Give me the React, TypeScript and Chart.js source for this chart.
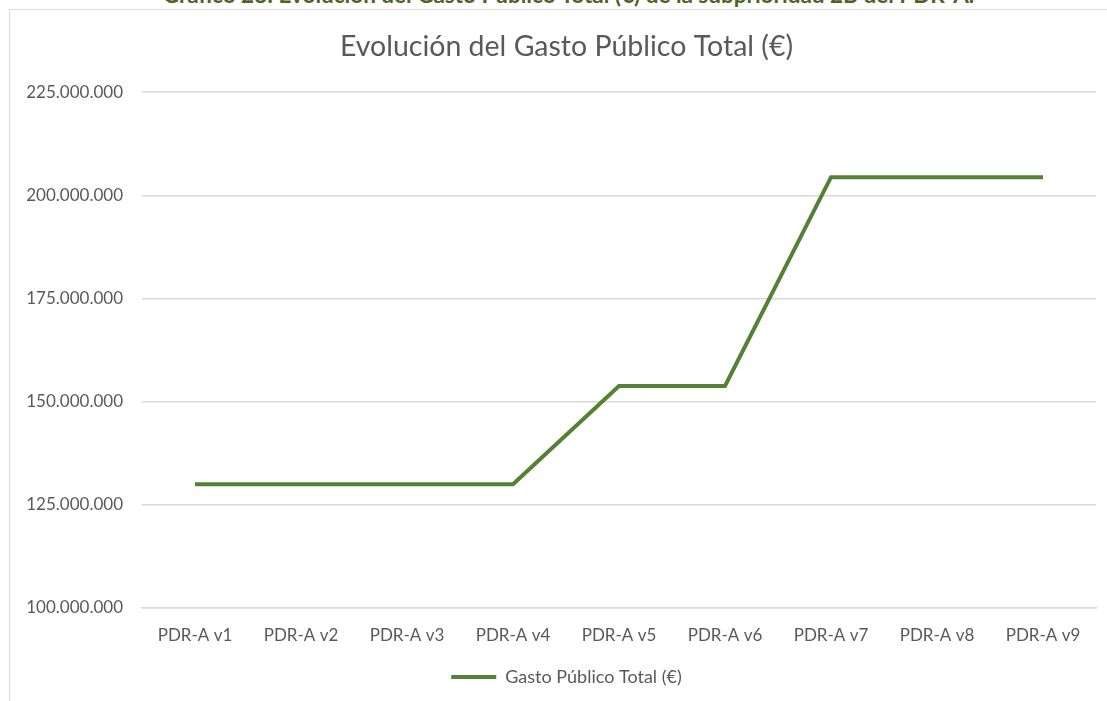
import React, { useEffect, useRef } from "react";
import { Chart, registerables } from "chart.js";

Chart.register(...registerables);

const HEADER = "Gráfico 28: Evolución del Gasto Público Total (€) de la subprioridad 2B del PDR-A.";
const TITLE = "Evolución del Gasto Público Total (€)";
const SERIES_NAME = "Gasto Público Total (€)";
const categories = ["PDR-A v1", "PDR-A v2", "PDR-A v3", "PDR-A v4", "PDR-A v5", "PDR-A v6", "PDR-A v7", "PDR-A v8", "PDR-A v9"];
const gastoPublico = [130000000, 130000000, 130000000, 130000000, 153800000, 153800000, 204400000, 204400000, 204400000];
const yMin = 100000000;
const yMax = 225000000;
const yStep = 25000000;

const GREEN = "#548235";
const GRID = "#d9d9d9";
const TEXT = "#595959";
const FONT = "Lato, 'Open Sans', sans-serif";

function fmt(v: number): string {
  return Math.round(v).toString().replace(/\B(?=(\d{3})+(?!\d))/g, ".");
}

export default function App() {
  const ref = useRef<HTMLCanvasElement | null>(null);
  useEffect(() => {
    if (!ref.current) return;
    const chart = new Chart(ref.current, {
      type: "line",
      data: {
        labels: categories,
        datasets: [
          {
            label: SERIES_NAME,
            data: gastoPublico,
            borderColor: GREEN,
            backgroundColor: GREEN,
            borderWidth: 4,
            pointRadius: 0,
            tension: 0,
            fill: false,
            yAxisID: "y",
          },
        ],
      },
      options: {
        responsive: false,
        animation: false,
        layout: { padding: { left: 0, right: 0, top: 0, bottom: 14 } },
        plugins: {
          title: {
            display: true,
            text: TITLE,
            color: TEXT,
            font: { family: FONT, size: 28.5, weight: "normal" },
            padding: { top: 20, bottom: 28 },
          },
          legend: {
            display: true,
            position: "bottom",
            labels: {
              color: TEXT,
              font: { family: FONT, size: 18 },
              boxWidth: 45,
              boxHeight: 4,
              padding: 10,
              generateLabels: (c: any) =>
                c.data.datasets.map((d: any, i: number) => ({
                  text: d.label,
                  fillStyle: GREEN,
                  strokeStyle: GREEN,
                  lineWidth: 0,
                  hidden: false,
                  datasetIndex: i,
                  fontColor: TEXT,
                })),
            },
          },
          tooltip: { enabled: false },
        },
        scales: {
          x: {
            offset: true,
            grid: { display: false, drawTicks: false },
            border: { display: true, color: GRID, width: 1.5 },
            ticks: { color: TEXT, font: { family: FONT, size: 17 }, padding: 17, maxRotation: 0, autoSkip: false },
            afterFit: (s: any) => {
              s.height = 50;
            },
          },
          y: {
            position: "left",
            min: yMin,
            max: yMax,
            grid: { color: GRID, lineWidth: 1.5, drawTicks: false },
            border: { display: false },
            ticks: {
              stepSize: yStep,
              color: TEXT,
              font: { family: FONT, size: 17 },
              padding: 19,
              callback: (v: any) => fmt(Number(v)),
            },
            afterFit: (s: any) => {
              s.width = 132;
            },
          },
          yRight: {
            type: "linear",
            position: "right",
            display: true,
            min: yMin,
            max: yMax,
            grid: { display: false, drawTicks: false },
            border: { display: false },
            ticks: { display: false },
            afterFit: (s: any) => {
              s.width = 27;
            },
          },
        },
      },
    });
    return () => chart.destroy();
  }, []);

  return (
    <div style={{ position: "absolute", left: 0, top: 0, width: 1107, height: 701, overflow: "hidden", background: "#fff" }}>
      <div
        style={{
          position: "absolute",
          left: 15,
          top: -16,
          width: 1107,
          textAlign: "center",
          fontFamily: FONT,
          fontWeight: "bold",
          fontSize: 22.5,
          lineHeight: "22.5px",
          color: "#4f6228",
          whiteSpace: "nowrap",
        }}
      >
        {HEADER}
      </div>
      <div
        style={{
          position: "absolute",
          left: 9,
          top: 9,
          width: 1114,
          height: 710,
          borderLeft: "1.5px solid #d9d9d9",
          borderTop: "1.5px solid #d9d9d9",
          boxSizing: "border-box",
        }}
      />
      <canvas ref={ref} width={1113} height={700} style={{ position: "absolute", left: 10, top: 10, width: 1113, height: 700 }} />
    </div>
  );
}
